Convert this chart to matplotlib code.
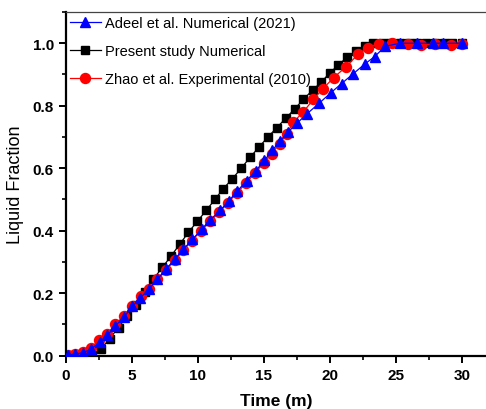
import matplotlib
matplotlib.use("Agg")
import matplotlib.pyplot as plt
from matplotlib.ticker import MultipleLocator

plt.rcParams['font.family'] = ['Liberation Sans', 'DejaVu Sans']

# Adeel et al. Numerical (2021)
adeel_x = [0.2, 0.7, 1.3, 1.9, 2.6, 3.15, 3.75, 4.4, 5.05, 5.65, 6.3, 6.95, 7.6, 8.25,
           8.9, 9.6, 10.3, 10.95, 11.7, 12.35, 13.0, 13.7, 14.4, 15.05, 15.65, 16.25,
           16.85, 17.55, 18.3, 19.2, 20.1, 20.9, 21.8, 22.7, 23.4, 24.2, 25.3, 26.6,
           27.8, 28.6, 30.0]
adeel_y = [0.003, 0.005, 0.01, 0.02, 0.045, 0.065, 0.095, 0.123, 0.158, 0.185, 0.213,
           0.245, 0.277, 0.308, 0.34, 0.372, 0.405, 0.435, 0.465, 0.495, 0.527, 0.56,
           0.592, 0.625, 0.657, 0.688, 0.716, 0.745, 0.775, 0.808, 0.842, 0.871, 0.903,
           0.935, 0.957, 0.99, 1.0, 1.0, 1.0, 1.0, 1.0]

# Present study Numerical
present_x = [0.0, 0.67, 1.33, 2.0, 2.67, 3.33, 4.0, 4.65, 5.3, 5.97, 6.64, 7.33, 8.0,
             8.66, 9.3, 9.97, 10.65, 11.3, 11.95, 12.62, 13.3, 13.97, 14.65, 15.32,
             16.0, 16.67, 17.35, 18.0, 18.7, 19.35, 20.0, 20.65, 21.3, 22.0, 22.65,
             23.3, 24.0, 24.65, 25.3, 26.0, 26.65, 27.3, 28.0, 28.65, 29.3, 30.0]
present_y = [0.0, 0.0, 0.0, 0.003, 0.02, 0.055, 0.09, 0.128, 0.162, 0.205, 0.245,
             0.283, 0.32, 0.358, 0.395, 0.43, 0.465, 0.5, 0.535, 0.566, 0.6, 0.635,
             0.668, 0.7, 0.73, 0.76, 0.79, 0.82, 0.85, 0.875, 0.905, 0.93, 0.955,
             0.975, 0.99, 1.0, 1.0, 1.0, 1.0, 1.0, 1.0, 1.0, 1.0, 1.0, 1.0, 1.0]

# Zhao et al. Experimental (2010)
zhao_x = [0.2, 0.7, 1.3, 1.9, 2.55, 3.15, 3.75, 4.4, 5.05, 5.7, 6.3, 6.95, 7.6, 8.25,
          8.9, 9.55, 10.25, 10.95, 11.65, 12.3, 12.95, 13.65, 14.35, 15.0, 15.6, 16.2,
          16.75, 17.25, 18.0, 18.75, 19.5, 20.3, 21.25, 22.15, 22.9, 23.7, 24.7, 25.95,
          26.95, 27.95, 29.2, 30.0]
zhao_y = [0.002, 0.005, 0.012, 0.025, 0.05, 0.07, 0.1, 0.127, 0.16, 0.19, 0.215, 0.245,
          0.275, 0.305, 0.337, 0.368, 0.4, 0.43, 0.46, 0.49, 0.52, 0.552, 0.585, 0.617,
          0.647, 0.678, 0.71, 0.748, 0.78, 0.82, 0.855, 0.89, 0.925, 0.965, 0.986,
          0.998, 1.0, 0.998, 0.995, 0.997, 0.995, 0.998]

fig = plt.figure(figsize=(4.86, 4.10), dpi=100)
ax = fig.add_axes([65.7 / 486, 53.3 / 410, (486 - 65.7) / 486, 343.7 / 410])

ax.plot(adeel_x, adeel_y, color='blue', lw=0.9, marker='^', ms=7.5,
        mfc='blue', mec='blue', label='Adeel et al. Numerical (2021)', zorder=3)
ax.plot(present_x, present_y, color='black', lw=0.9, marker='s', ms=6.2,
        mfc='black', mec='black', label='Present study Numerical', zorder=1)
ax.plot(zhao_x, zhao_y, color='red', lw=0.9, marker='o', ms=7.2,
        mfc='red', mec='red', label='Zhao et al. Experimental (2010)', zorder=2)

ax.set_xlim(0, 31.84)
ax.set_ylim(0, 1.1)
ax.xaxis.set_major_locator(MultipleLocator(5))
ax.xaxis.set_minor_locator(MultipleLocator(2.5))
ax.yaxis.set_major_locator(MultipleLocator(0.2))
ax.yaxis.set_minor_locator(MultipleLocator(0.1))
ax.yaxis.set_major_formatter(plt.FormatStrFormatter('%.1f'))

ax.spines['right'].set_visible(False)
ax.spines['left'].set_linewidth(1.6)
ax.spines['bottom'].set_linewidth(1.6)
ax.spines['top'].set_linewidth(0.9)
ax.spines['top'].set_color('#444444')

ax.tick_params(which='major', direction='out', length=5, width=1.4, labelsize=11)
ax.tick_params(which='minor', direction='out', length=3, width=1.2)
ax.tick_params(top=False, right=False)
for lab in ax.get_xticklabels() + ax.get_yticklabels():
    lab.set_fontweight('bold')

ax.set_xlabel('Time (m)', fontsize=12.5, fontweight='bold', labelpad=8)
ax.set_ylabel('Liquid Fraction', fontsize=13, labelpad=6)

ax.legend(loc='upper left', frameon=False, fontsize=10.5, labelspacing=0.95,
          handlelength=2.1, handletextpad=0.3, borderaxespad=0.0, borderpad=0.3,
          bbox_to_anchor=(0.0, 1.0))

fig.savefig('out.png', dpi=100)
